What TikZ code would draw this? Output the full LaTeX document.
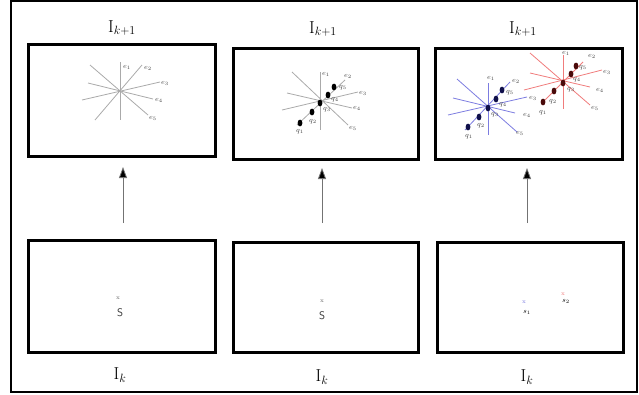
\documentclass[tikz,border=0pt]{standalone}
\usetikzlibrary{arrows.meta}
\definecolor{raygray}{HTML}{AAAAAA}
\definecolor{rayblue}{HTML}{7C7CE0}
\definecolor{rayred}{HTML}{F07C7C}
\definecolor{dotblue}{HTML}{10104A}
\definecolor{dotred}{HTML}{4A0A0A}
\begin{document}
\begin{tikzpicture}[x=1pt,y=-1pt,
  frame/.style={draw=black,line width=3pt},
  outer/.style={draw=black,line width=1.5pt},
  ray/.style={line width=0.8pt},
  lab/.style={inner sep=0pt,font=\fontsize{7}{8}\selectfont,text=black!75},
  title/.style={inner sep=0pt,font=\fontsize{18}{20}\selectfont},
  uparrow/.style={draw=black!55,line width=0.8pt,-{Triangle[length=11pt,width=8pt,fill=black]}},
  dot/.style={fill=#1}]
\useasboundingbox (0,0) rectangle (639,394);
\draw[outer] (11,1) rectangle (637,392);
% boxes
\draw[frame] (28,44) rectangle (215,156);
\draw[frame] (233,48) rectangle (418,159);
\draw[frame] (435,48) rectangle (622,159);
\draw[frame] (28,240) rectangle (215,352);
\draw[frame] (233,242) rectangle (418,352);
\draw[frame] (437,242) rectangle (623,352);
% titles
\node[title] (t1) at (122,28) {$\mathrm{I}_{k+1}$};
\node[title] (t2) at (323,29) {$\mathrm{I}_{k+1}$};
\node[title] (t3) at (523,29) {$\mathrm{I}_{k+1}$};
\node[title] (b1) at (120,375) {$\mathrm{I}_{k}$};
\node[title] (b2) at (322,377) {$\mathrm{I}_{k}$};
\node[title] (b3) at (527,377) {$\mathrm{I}_{k}$};
% arrows
\coordinate (a1s) at (123,223); \coordinate (a1e) at (123,167);
\coordinate (a2s) at (322,223); \coordinate (a2e) at (322,168);
\coordinate (a3s) at (527,223); \coordinate (a3e) at (527,168);
\draw[uparrow] (a1s) -- (a1e);
\draw[uparrow] (a2s) -- (a2e);
\draw[uparrow] (a3s) -- (a3e);
% ---- star box 1
\begin{scope}[raygray]
\draw[ray] (120,62) -- (120,120);
\draw[ray] (95,120) -- (142,65);
\draw[ray] (82,100) -- (160,82);
\draw[ray] (88,83) -- (153,99);
\draw[ray] (90,65) -- (148,115);
\end{scope}
\node[lab] (s1e1) at (127,67) {$e_1$};
\node[lab] (s1e2) at (148,68) {$e_2$};
\node[lab] (s1e3) at (165,83) {$e_3$};
\node[lab] (s1e4) at (159,100) {$e_4$};
\node[lab] (s1e5) at (153,118) {$e_5$};
% ---- star box 2
\begin{scope}[raygray]
\draw[ray] (320,72) -- (320,130);
\draw[ray] (297,125) -- (345,80);
\draw[ray] (282,110) -- (358,92);
\draw[ray] (287,93) -- (352,108);
\draw[ray] (292,72) -- (348,125);
\end{scope}
\fill[black] (300,123) ellipse [x radius=2.4pt,y radius=3.4pt];
\fill[black] (312,112) ellipse [x radius=2.4pt,y radius=3.4pt];
\fill[black] (320,103) ellipse [x radius=2.4pt,y radius=3.4pt];
\fill[black] (328,95) ellipse [x radius=2.4pt,y radius=3.4pt];
\fill[black] (334,87) ellipse [x radius=2.4pt,y radius=3.4pt];
\node[lab] at (326,74) {$e_1$};
\node[lab] at (348,76) {$e_2$};
\node[lab] at (363,93) {$e_3$};
\node[lab] at (357,108) {$e_4$};
\node[lab] at (353,128) {$e_5$};
\node[lab] at (300,132) {$q_1$};
\node[lab] at (313,122) {$q_2$};
\node[lab] at (327,110) {$q_3$};
\node[lab] at (335,100) {$q_4$};
\node[lab] at (343,88) {$q_5$};
% ---- blue star box 3
\begin{scope}[rayblue]
\draw[ray] (488,83) -- (488,135);
\draw[ray] (465,130) -- (510,82);
\draw[ray] (448,115) -- (527,97);
\draw[ray] (453,98) -- (515,113);
\draw[ray] (457,79) -- (517,132);
\end{scope}
\fill[dotblue] (468,127) ellipse [x radius=2.4pt,y radius=3.4pt];
\fill[dotblue] (479,117) ellipse [x radius=2.4pt,y radius=3.4pt];
\fill[dotblue] (488,108) ellipse [x radius=2.4pt,y radius=3.4pt];
\fill[dotblue] (496,99) ellipse [x radius=2.4pt,y radius=3.4pt];
\fill[dotblue] (502,90) ellipse [x radius=2.4pt,y radius=3.4pt];
\node[lab] at (491,78) {$e_1$};
\node[lab] at (516,81) {$e_2$};
\node[lab] at (533,98) {$e_3$};
\node[lab] at (527,115) {$e_4$};
\node[lab] at (520,133) {$e_5$};
\node[lab] at (469,137) {$q_1$};
\node[lab] at (481,126) {$q_2$};
\node[lab] at (495,115) {$q_3$};
\node[lab] at (503,105) {$q_4$};
\node[lab] at (510,93) {$q_5$};
% ---- red star box 3
\begin{scope}[rayred]
\draw[ray] (563,55) -- (563,109);
\draw[ray] (542,103) -- (583,62);
\draw[ray] (524,90) -- (602,70);
\draw[ray] (530,73) -- (590,87);
\draw[ray] (530,53) -- (590,105);
\end{scope}
\fill[dotred] (543,102) ellipse [x radius=2.4pt,y radius=3.4pt];
\fill[dotred] (554,91) ellipse [x radius=2.4pt,y radius=3.4pt];
\fill[dotred] (563,83) ellipse [x radius=2.4pt,y radius=3.4pt];
\fill[dotred] (571,74) ellipse [x radius=2.4pt,y radius=3.4pt];
\fill[dotred] (576,66) ellipse [x radius=2.4pt,y radius=3.4pt];
\node[lab] at (566,53) {$e_1$};
\node[lab] at (592,56) {$e_2$};
\node[lab] at (607,72) {$e_3$};
\node[lab] at (600,90) {$e_4$};
\node[lab] at (595,108) {$e_5$};
\node[lab] at (543,113) {$q_1$};
\node[lab] at (553,102) {$q_2$};
\node[lab] at (571,90) {$q_3$};
\node[lab] at (577,80) {$q_4$};
\node[lab] at (583,68) {$q_5$};
% ---- bottom markers
\node[inner sep=0pt,font=\fontsize{6}{7}\selectfont,text=black!60] (x1) at (118,298) {x};
\node[inner sep=0pt,font=\sffamily\fontsize{11}{12}\selectfont,text=black!80] (S1) at (120,313) {S};
\node[inner sep=0pt,font=\fontsize{6}{7}\selectfont,text=black!60] (x2) at (322,301) {x};
\node[inner sep=0pt,font=\sffamily\fontsize{11}{12}\selectfont,text=black!80] (S2) at (322,316) {S};
\node[inner sep=0pt,font=\fontsize{6}{7}\selectfont,text=rayblue] (x3) at (524,302) {x};
\node[lab,text=black] (s1) at (527,312) {$s_1$};
\node[inner sep=0pt,font=\fontsize{6}{7}\selectfont,text=rayred] (x4) at (563,294) {x};
\node[lab,text=black] (s2) at (566,301) {$s_2$};
\end{tikzpicture}
\end{document}
